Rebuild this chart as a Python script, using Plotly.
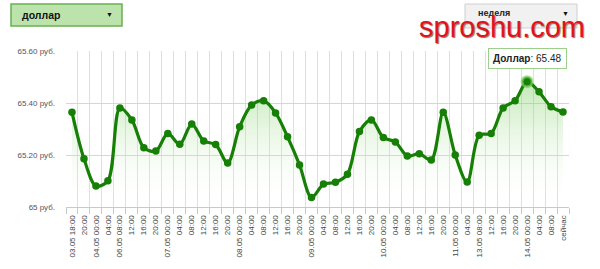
import plotly.graph_objects as go

# ---- data ----
x_labels = ["03.05 18:00", "20:00", "04.05 00:00", "04:00", "06.05 08:00", "12:00", "16:00", "20:00",
            "07.05 00:00", "04:00", "08:00", "12:00", "16:00", "20:00",
            "08.05 00:00", "04:00", "08:00", "12:00", "16:00", "20:00",
            "09.05 00:00", "04:00", "08:00", "12:00", "16:00", "20:00",
            "10.05 00:00", "04:00", "08:00", "12:00", "16:00", "20:00",
            "11.05 00:00", "04:00", "13.05 08:00", "12:00", "16:00", "20:00",
            "14.05 00:00", "04:00", "08:00", "сейчас"]
rates = [65.364, 65.186, 65.081, 65.101, 65.381, 65.335, 65.228, 65.215,
         65.283, 65.241, 65.319, 65.254, 65.240, 65.169,
         65.309, 65.392, 65.409, 65.362, 65.270, 65.162,
         65.037, 65.088, 65.095, 65.126, 65.290, 65.335,
         65.267, 65.250, 65.196, 65.205, 65.181, 65.364,
         65.200, 65.096, 65.276, 65.283, 65.381, 65.409,
         65.482, 65.443, 65.386, 65.365]
y_ticks = [65.0, 65.2, 65.4, 65.6]
y_ticktext = ["65 руб.", "65.20 руб.", "65.40 руб.", "65.60 руб."]
series_name = "Доллар"
highlight_idx = 38

xs = list(range(len(rates)))
GREEN = "#167f06"

fig = go.Figure()
fig.add_trace(go.Scatter(
    x=xs, y=rates, mode="lines+markers",
    line=dict(color=GREEN, width=3.2, shape="spline", smoothing=0.9),
    marker=dict(color=GREEN, size=7.5),
    fill="tozeroy",
    fillgradient=dict(type="vertical", start=65.0, stop=65.5,
                      colorscale=[[0, "rgba(255,255,255,0)"], [1, "rgba(110,200,80,0.45)"]]),
    hoverinfo="skip",
))
# highlighted (hovered) point
fig.add_trace(go.Scatter(
    x=[xs[highlight_idx]], y=[rates[highlight_idx]], mode="markers",
    marker=dict(color=GREEN, size=10, line=dict(color="rgba(120,210,90,0.65)", width=3)),
    hoverinfo="skip",
))

FONT = "Liberation Sans, Arial, sans-serif"

fig.update_layout(
    width=600, height=269,
    margin=dict(l=66, r=31, t=51, b=62),
    paper_bgcolor="white", plot_bgcolor="white",
    showlegend=False,
    font=dict(family=FONT, color="#555"),
    xaxis=dict(
        range=[-0.5, len(rates) - 0.5],
        tickmode="array", tickvals=xs, ticktext=x_labels,
        tickangle=-90, tickfont=dict(size=8, color="#444"),
        showgrid=False, ticks="", zeroline=False,
        showline=True, linecolor="#c8c8d0", linewidth=1,
        ticklabelstandoff=4,
        minor=dict(tickmode="linear", tick0=-0.5, dtick=1, showgrid=True,
                   gridcolor="#e0dde8", gridwidth=1, ticks="outside",
                   ticklen=6, tickcolor="#c8c8d0"),
        fixedrange=True,
    ),
    yaxis=dict(
        range=[65.0, 65.6],
        tickmode="array", tickvals=y_ticks, ticktext=y_ticktext,
        tickfont=dict(size=8, color="#555"),
        showgrid=True, gridcolor="#d6d4e0", gridwidth=1,
        zeroline=False, showline=False, ticks="",
        ticklabelstandoff=10,
        fixedrange=True,
    ),
)

# tooltip
fig.add_annotation(
    x=xs[highlight_idx], y=rates[highlight_idx], xref="x", yref="y",
    text="<b>" + series_name + "</b>: " + f"{rates[highlight_idx]:.2f}",
    showarrow=False, yanchor="bottom", yshift=13,
    font=dict(family=FONT, size=10, color="#222"),
    bgcolor="rgba(255,255,255,0.95)", bordercolor="#9ccf8c", borderwidth=1, borderpad=4,
)

# top-left dropdown
def px_x(p):
    return (p - 66) / 503.0

def px_y(p):
    return (207 - p) / 156.0

fig.add_shape(type="rect", xref="paper", yref="paper",
              x0=px_x(11), x1=px_x(122), y0=px_y(26), y1=px_y(4),
              fillcolor="#bde3ad", line=dict(color="#69b050", width=1.5), layer="above")
fig.add_annotation(xref="paper", yref="paper", x=px_x(20), y=px_y(15), xanchor="left", yanchor="middle",
                   text="<b>доллар</b>", showarrow=False, font=dict(family=FONT, size=10.5, color="#111"))
fig.add_annotation(xref="paper", yref="paper", x=px_x(109), y=px_y(15), xanchor="center", yanchor="middle",
                   text="▼", showarrow=False, font=dict(family=FONT, size=7, color="#111"))

# top-right dropdown
fig.add_shape(type="rect", xref="paper", yref="paper",
              x0=px_x(465), x1=px_x(577), y0=px_y(28), y1=px_y(4),
              fillcolor="#f1f1f1", line=dict(color="#cfcfcf", width=1), layer="above")
fig.add_annotation(xref="paper", yref="paper", x=px_x(476), y=px_y(13), xanchor="left", yanchor="middle",
                   text="<b>неделя</b>", showarrow=False, font=dict(family=FONT, size=9, color="#222"))
fig.add_annotation(xref="paper", yref="paper", x=px_x(565), y=px_y(13), xanchor="center", yanchor="middle",
                   text="▼", showarrow=False, font=dict(family=FONT, size=7, color="#111"))

# watermark
fig.add_annotation(xref="paper", yref="paper", x=px_x(417), y=px_y(27), xanchor="left", yanchor="middle",
                   text="sproshu.com", showarrow=False,
                   font=dict(family=FONT, size=29, color="#e3121b", shadow="1px 1px 1px #777"))

fig.write_html("out.html")
